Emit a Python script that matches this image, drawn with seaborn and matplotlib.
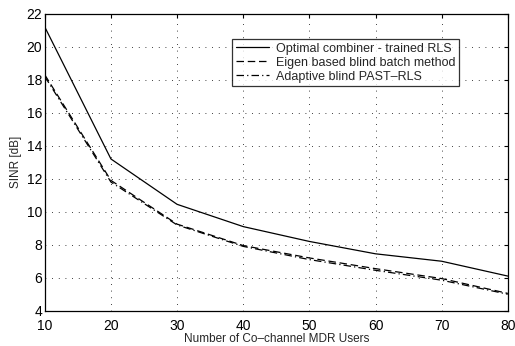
import matplotlib
matplotlib.use("Agg")
import numpy as np
import pandas as pd
import matplotlib.pyplot as plt
import seaborn as sns

# values
users = [10, 20, 30, 40, 50, 60, 70, 80]
sinr_trained = [21.2, 13.2, 10.45, 9.1, 8.2, 7.45, 7.0, 6.1]
sinr_eigen = [18.3, 11.9, 9.25, 7.95, 7.2, 6.55, 5.95, 5.05]
sinr_past = [18.2, 11.8, 9.2, 7.9, 7.1, 6.45, 5.85, 5.0]
labels = ["Optimal combiner - trained RLS",
          "Eigen based blind batch method",
          "Adaptive blind PAST\u2013RLS"]

sns.set_style("white")
plt.rcParams['font.family'] = ['Liberation Sans', 'DejaVu Sans']

fig = plt.figure(figsize=(5.15, 3.46), dpi=100)
ax = fig.add_axes([0.087, 0.102, 0.899, 0.858])

sns.lineplot(x=users, y=sinr_trained, ax=ax, color='black', lw=0.9,
             linestyle='-', label=labels[0])
sns.lineplot(x=users, y=sinr_eigen, ax=ax, color='black', lw=0.9,
             linestyle=(0, (6, 3)), label=labels[1])
sns.lineplot(x=users, y=sinr_past, ax=ax, color='black', lw=0.9,
             linestyle=(0, (6, 2.5, 1, 2.5)), label=labels[2])

ax.set_xlim(10, 80)
ax.set_ylim(4, 22)
ax.set_xticks(np.arange(10, 81, 10))
ax.set_yticks(np.arange(4, 23, 2))
ax.grid(True, linestyle=(0, (1, 7)), color='black', lw=0.6)
ax.tick_params(direction='in', top=True, right=True, length=3,
               labelsize=10, colors='black', pad=2)
ax.tick_params(axis='x', pad=6)
for s in ax.spines.values():
    s.set_color('black')
    s.set_linewidth(0.9)

ax.set_xlabel('Number of Co\u2013channel MDR Users', fontsize=8.5, labelpad=0)
ax.set_ylabel('SINR [dB]', fontsize=8.5, labelpad=3)

leg = ax.legend(loc='upper left', bbox_to_anchor=(0.405, 0.915), fontsize=9,
                frameon=True, fancybox=False, edgecolor='black',
                handlelength=2.6, borderpad=0.3, labelspacing=0.15,
                borderaxespad=0, handletextpad=0.6)
leg.get_frame().set_linewidth(0.9)

fig.savefig('out.png', dpi=100)
